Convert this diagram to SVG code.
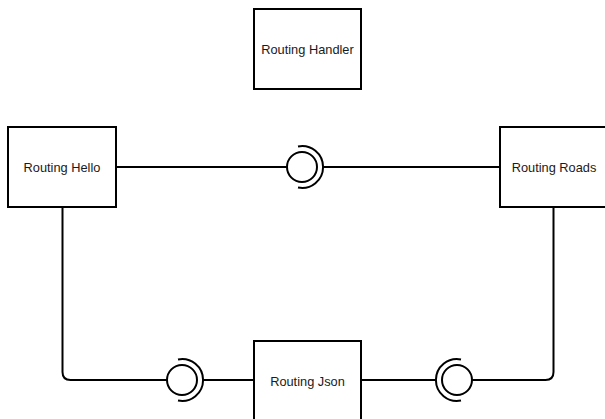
<svg xmlns="http://www.w3.org/2000/svg" width="605" height="419" viewBox="0 0 605 419">
  <style>
    .box { fill: #ffffff; stroke: #000000; stroke-width: 2; }
    .label { font-family: "Liberation Sans", Arial, sans-serif; font-size: 12.8px; fill: #1a1a1a; text-anchor: middle; dominant-baseline: central; }
    .wire { fill: none; stroke: #000000; stroke-width: 2; }
    .socket { fill: none; stroke: #000000; stroke-width: 2; }
  </style>
  <defs>
    <!-- ball (provided) with socket arc (required) opening to the left -->
    <g id="iface">
      <circle class="socket" cx="0" cy="0" r="15"/>
      <path class="socket" d="M -4 -20.6 A 21 21 0 1 1 -4 20.6"/>
    </g>
  </defs>

  <rect width="605" height="419" fill="#ffffff"/>

  <g id="connectors">
    <!-- Hello to Roads -->
    <path class="wire" d="M 116 167 L 287 167"/>
    <path class="wire" d="M 323 167 L 500 167"/>
    <use href="#iface" x="302" y="167"/>
    <!-- Hello to Json -->
    <path class="wire" d="M 62.5 207 L 62.5 372 Q 62.5 380 70.5 380 L 167 380"/>
    <path class="wire" d="M 203 380 L 254 380"/>
    <use href="#iface" x="182" y="380"/>
    <!-- Json to Roads -->
    <path class="wire" d="M 361 380 L 436 380"/>
    <path class="wire" d="M 472 380 L 545.5 380 Q 553.5 380 553.5 372 L 553.5 207"/>
    <use href="#iface" transform="translate(457 380) scale(-1 1)"/>
  </g>

  <g id="routing-handler">
    <rect class="box" x="254" y="9" width="107" height="80"/>
    <text class="label" x="307.5" y="49">Routing Handler</text>
  </g>

  <g id="routing-hello">
    <rect class="box" x="8" y="127" width="108" height="80"/>
    <text class="label" x="62" y="167">Routing Hello</text>
  </g>

  <g id="routing-roads">
    <rect class="box" x="500" y="127" width="108" height="80"/>
    <text class="label" x="554" y="167">Routing Roads</text>
  </g>

  <g id="routing-json">
    <rect class="box" x="254" y="341" width="107" height="80"/>
    <text class="label" x="307.5" y="381">Routing Json</text>
  </g>
</svg>
